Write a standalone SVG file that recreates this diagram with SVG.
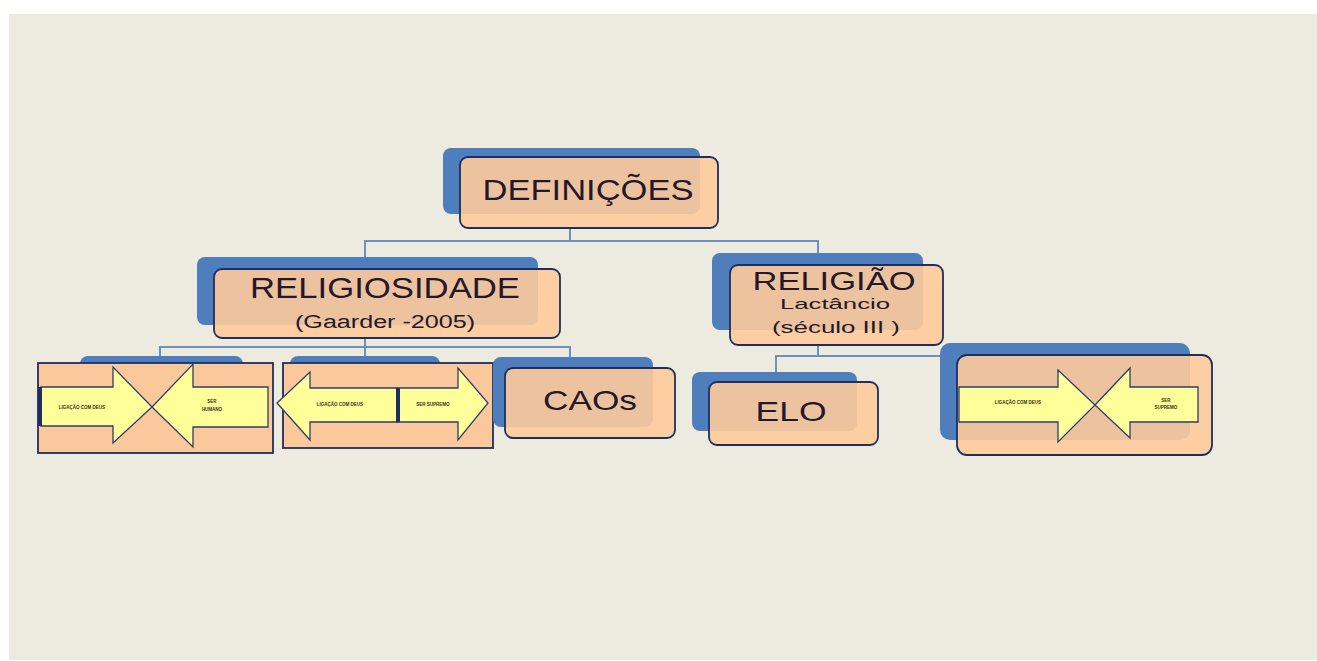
<svg xmlns="http://www.w3.org/2000/svg" width="1317" height="661" viewBox="0 0 1317 661">
<style>
.bg{fill:#EDEBE0}
.back{fill:#4F7EBD}
.front{fill:#FDCB9A;fill-opacity:0.9;stroke:#1E2F5E;stroke-width:1.8}
.sq{fill:#FBC89B;stroke:#1E2F5E;stroke-width:1.8}
.arr{fill:#FFFF99;stroke:#2C3E6E;stroke-width:1.3}
.con{fill:none;stroke:#6E90C0;stroke-width:2}
.t{font-family:"Liberation Sans",Arial,sans-serif;fill:#24182A;text-anchor:middle}
.tiny{font-family:"Liberation Sans",Arial,sans-serif;fill:#3A2E20;text-anchor:middle;font-size:4.5px;font-weight:bold}
</style>
<rect x="0" y="0" width="1317" height="661" fill="#FFFFFF"/>
<rect class="bg" x="9" y="14" width="1308" height="646"/>

<g id="connectors">
<polyline class="con" points="570,228 570,241 365,241 365,258"/>
<polyline class="con" points="570,241 818,241 818,253"/>
<polyline class="con" points="365,338 365,347 160,347 160,363"/>
<polyline class="con" points="365,347 365,363"/>
<polyline class="con" points="365,347 570,347 570,357"/>
<polyline class="con" points="818,345 818,356 776,356 776,372"/>
<polyline class="con" points="818,356 940,356"/>
</g>

<g id="definicoes">
<rect class="back" x="443" y="148" width="257" height="66" rx="8"/>
<rect class="front" x="460" y="157" width="258" height="71" rx="8"/>
<text class="t" x="588" y="200" font-size="30" textLength="211" lengthAdjust="spacingAndGlyphs">DEFINIÇÕES</text>
</g>

<g id="religiosidade">
<rect class="back" x="197" y="257" width="341" height="68" rx="8"/>
<rect class="front" x="214" y="269" width="346" height="69" rx="8"/>
<text class="t" x="385" y="298" font-size="29" textLength="270" lengthAdjust="spacingAndGlyphs">RELIGIOSIDADE</text>
<text class="t" x="385" y="328" font-size="18" textLength="180" lengthAdjust="spacingAndGlyphs">(Gaarder  -2005)</text>
</g>

<g id="religiao">
<rect class="back" x="712" y="253" width="211" height="77" rx="8"/>
<rect class="front" x="730" y="265" width="213" height="80" rx="8"/>
<text class="t" x="834" y="290" font-size="26" textLength="163" lengthAdjust="spacingAndGlyphs">RELIGIÃO</text>
<text class="t" x="835" y="309" font-size="15" textLength="110" lengthAdjust="spacingAndGlyphs">Lactâncio</text>
<text class="t" x="836" y="333" font-size="17" textLength="128" lengthAdjust="spacingAndGlyphs">(século III )</text>
</g>

<g id="box1">
<rect class="back" x="80" y="356" width="163" height="20" rx="8"/>
<rect class="sq" x="38" y="363" width="235" height="90"/>
<polygon class="arr" points="41,387 113,387 113,367 152,407 113,443 113,426 41,426"/>
<rect x="38" y="387" width="4" height="39" fill="#1E2F5E"/>
<polygon class="arr" points="268,387 193,387 193,364 152,407 193,447 193,427 268,427"/>
<text class="tiny" x="82" y="409">LIGAÇÃO COM DEUS</text>
<text class="tiny" x="212" y="403" font-size="5.5px">SER</text>
<text class="tiny" x="212" y="411" font-size="5.5px">HUMANO</text>
</g>

<g id="box2">
<rect class="back" x="290" y="356" width="150" height="20" rx="8"/>
<rect class="sq" x="283" y="363" width="210" height="85"/>
<polygon class="arr" points="397,388 310,388 310,372 277,403 310,440 310,422 397,422"/>
<polygon class="arr" points="397,388 458,388 458,368 488,403 458,440 458,422 397,422"/>
<rect x="396" y="388" width="4" height="34" fill="#1E2F5E"/>
<text class="tiny" x="340" y="406">LIGAÇÃO COM DEUS</text>
<text class="tiny" x="433" y="406">SER SUPREMO</text>
</g>

<g id="caos">
<rect class="back" x="493" y="357" width="160" height="70" rx="8"/>
<rect class="front" x="505" y="368" width="170" height="70" rx="8"/>
<text class="t" x="590" y="410" font-size="28" textLength="94" lengthAdjust="spacingAndGlyphs">CAOs</text>
</g>

<g id="elo">
<rect class="back" x="692" y="372" width="165" height="59" rx="8"/>
<rect class="front" x="709" y="382" width="169" height="63" rx="8"/>
<text class="t" x="791" y="421" font-size="28" textLength="71" lengthAdjust="spacingAndGlyphs">ELO</text>
</g>

<g id="box3">
<rect class="back" x="940" y="343" width="250" height="97" rx="10"/>
<rect class="front" x="957" y="355" width="255" height="100" rx="10"/>
<polygon class="arr" points="959,387 1058,387 1058,370 1095,405 1058,442 1058,422 959,422"/>
<polygon class="arr" points="1198,387 1130,387 1130,368 1095,405 1130,438 1130,422 1198,422"/>
<text class="tiny" x="1018" y="404">LIGAÇÃO COM DEUS</text>
<text class="tiny" x="1166" y="402">SER</text>
<text class="tiny" x="1166" y="409">SUPREMO</text>
</g>
</svg>
